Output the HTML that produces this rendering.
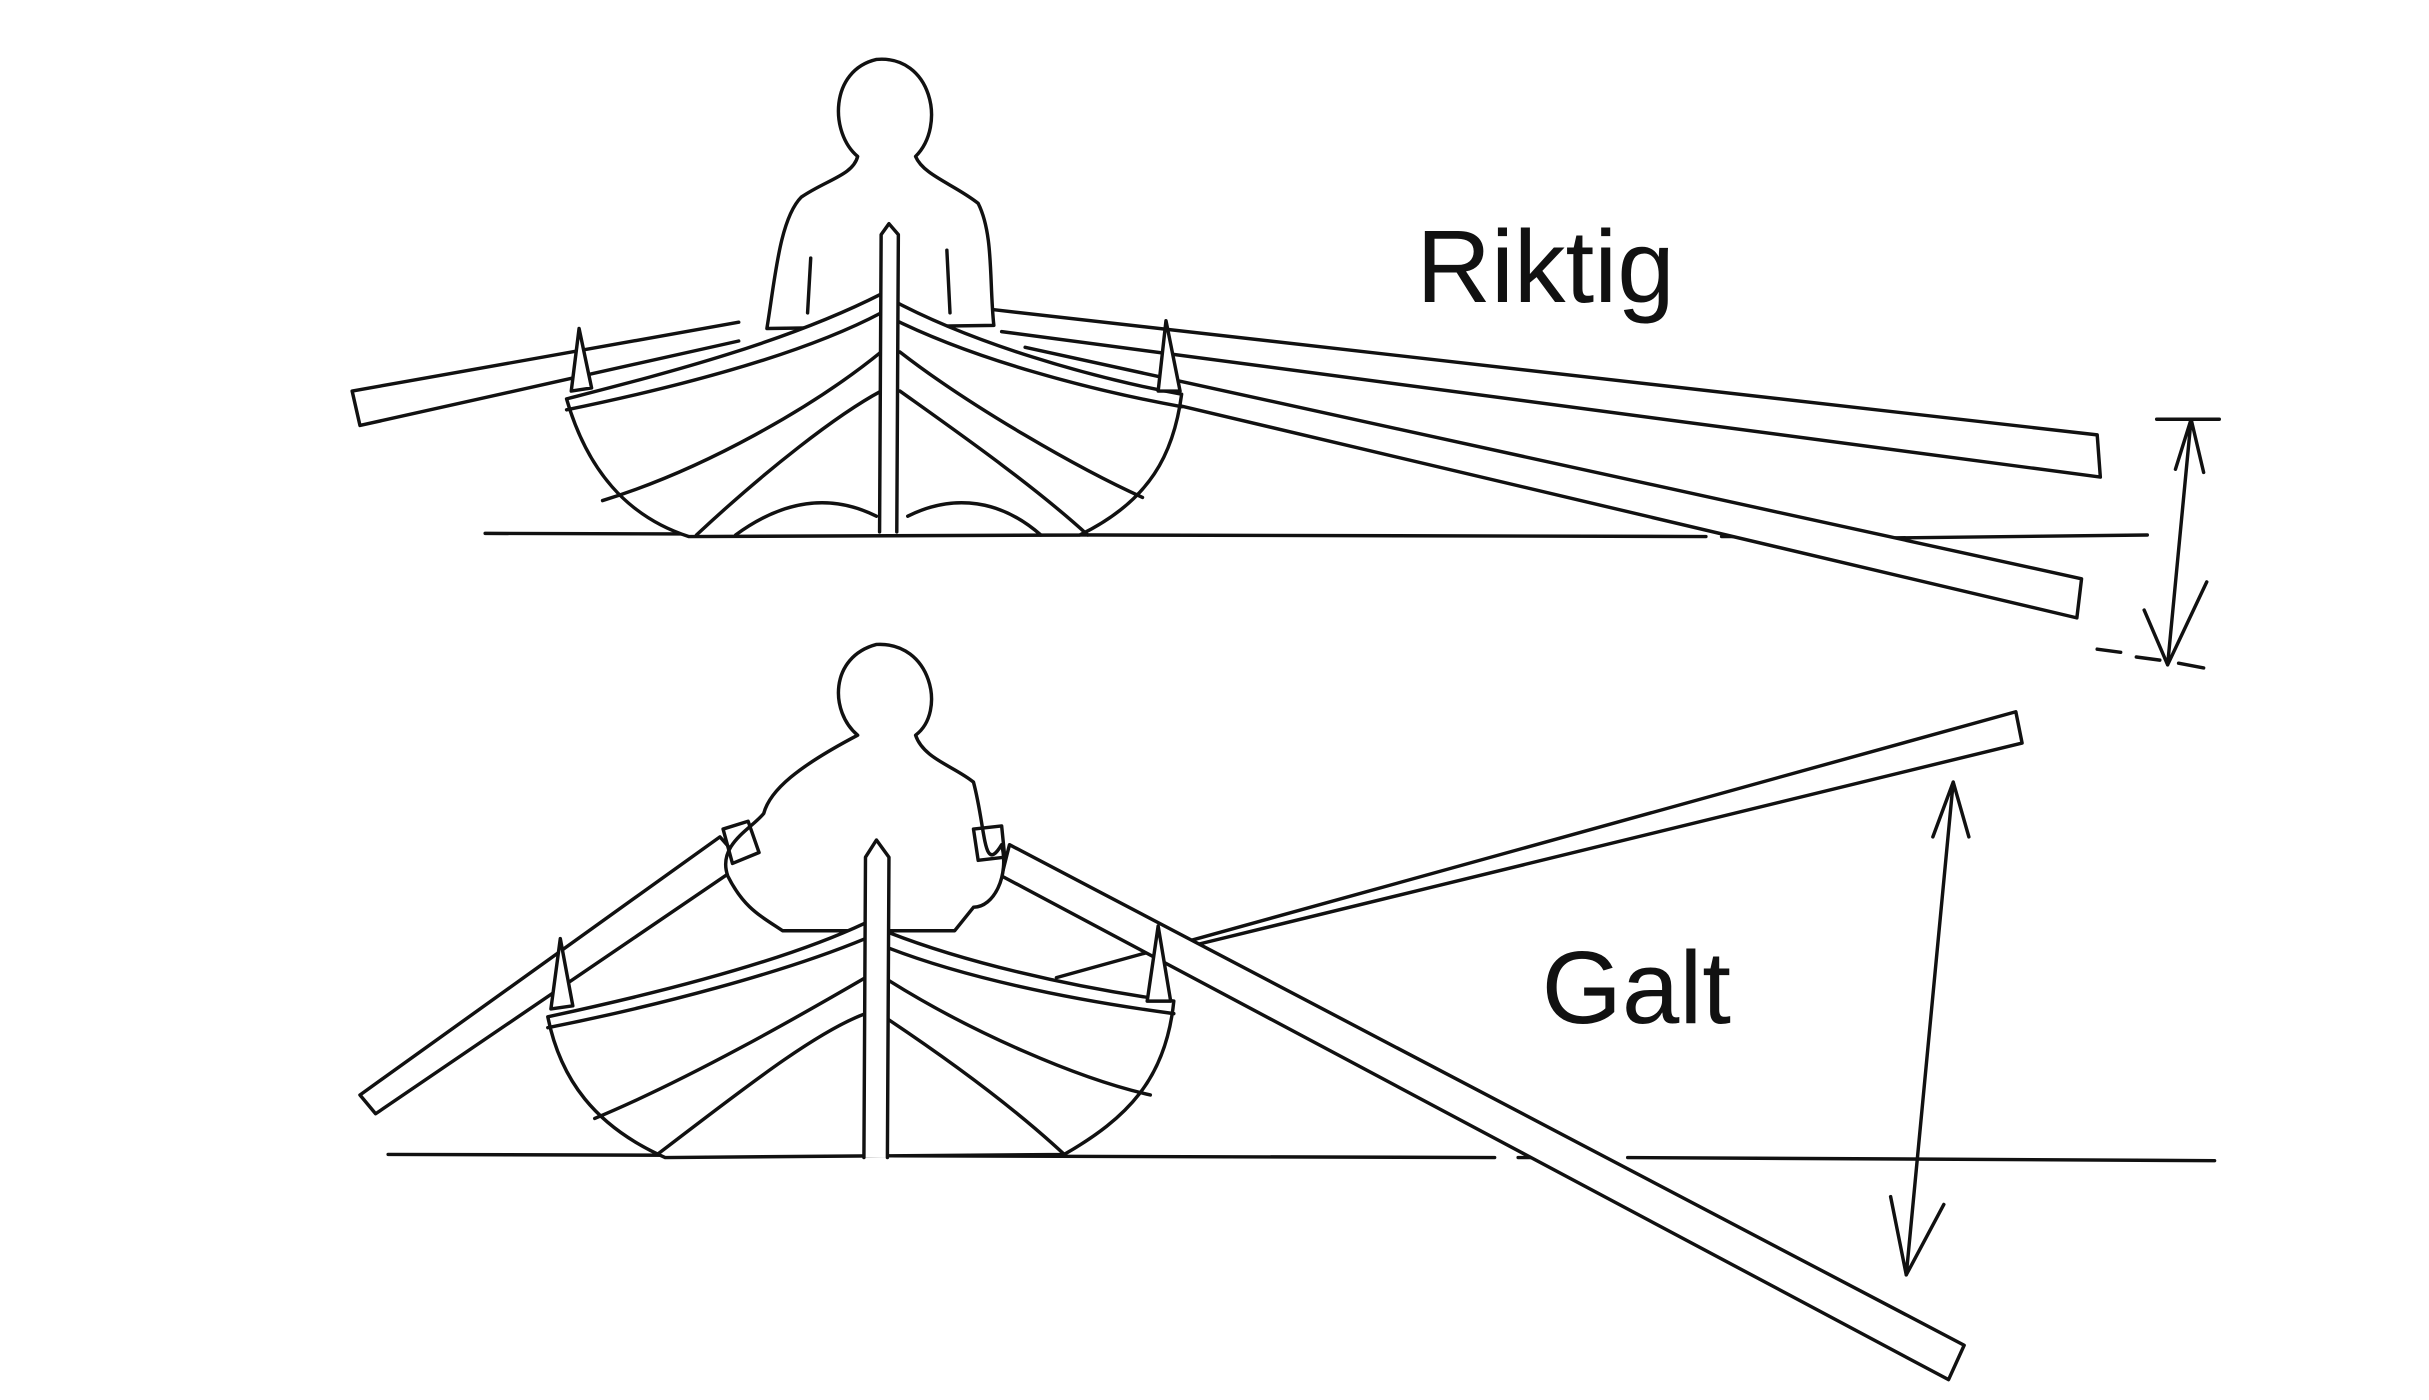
<!DOCTYPE html>
<html><head><meta charset="utf-8"><style>
html,body{margin:0;padding:0;background:#fff;width:2429px;height:1400px;overflow:hidden}
svg{display:block}
</style></head><body>
<svg width="2429" height="1400" viewBox="0 0 1552 895" preserveAspectRatio="none" xmlns="http://www.w3.org/2000/svg">
<g fill="none" stroke="#111" stroke-width="2.2" stroke-linejoin="round" stroke-linecap="round">
<!-- TOP -->
<!-- waterline -->
<path d="M310 341 L1090 343 M1100 343 L1120 343 M1135 344 L1150 344 M1165 344 L1185 344 M1200 344 L1372 342"/>
<!-- left oar -->
<path d="M225 250 L472 206 M230 272 L472 218 M225 250 L230 272" fill="#fff"/>
<!-- right oars -->
<path d="M635 198 L1340 278 L1342 305 L640 212" fill="#fff"/>
<path d="M655 222 L1330 370 L1327 395 L655 236" fill="#fff"/>
<!-- person -->
<path d="M548 100 C530 85 530 45 560 38 C595 35 605 80 585 100 C590 112 610 118 625 130 C635 150 632 180 635 208 L490 210 C495 180 498 140 512 126 C528 115 545 112 548 100 Z" fill="#fff"/>
<path d="M518 165 L516 200 M605 160 L607 200"/>
<!-- hull -->
<path d="M362 255 C420 240 500 220 563 188 C620 220 700 242 755 252 C750 290 735 320 690 342 L440 343 C400 330 375 300 362 255 Z" fill="#fff"/>
<path d="M362 262 C430 248 510 228 563 200 C620 230 700 250 755 260"/>
<path d="M385 320 C450 300 520 260 563 225 M445 342 C490 300 535 265 563 250 M575 225 C620 260 690 300 730 318 M575 250 C610 275 660 310 695 342"/>
<path d="M470 342 C500 320 530 315 560 330 M580 330 C610 315 640 320 665 342"/>
<!-- stem -->
<path d="M562 340 L563 150 L568 143 L574 150 L573 340" fill="#fff"/>
<!-- thole pins -->
<path d="M365 250 L370 210 L378 248 Z M740 250 L745 205 L754 250 Z" fill="#fff"/>
<!-- arrow -->
<path d="M1400 268 L1385 425 M1400 268 L1390 300 M1400 268 L1408 302 M1385 425 L1370 390 M1385 425 L1410 372"/>
<path d="M1378 268 L1418 268 M1340 415 L1355 417 M1365 420 L1380 422 M1392 424 L1408 427"/>
<text x="905" y="193" font-family="Liberation Sans, sans-serif" font-size="66" fill="#111" stroke="none">Riktig</text>

<!-- BOTTOM -->
<path d="M248 738 L955 740 M970 740 L990 740 M1005 740 L1025 740 M1040 740 L1415 742"/>
<!-- left oar -->
<path d="M230 700 L460 535 L475 552 L240 712 Z" fill="#fff"/>
<!-- up oar -->
<path d="M675 625 L1288 455 L1292 475 L760 605" fill="#fff"/>
<!-- down oar -->
<path d="M645 540 L1255 860 L1245 882 L640 560 Z" fill="#fff"/>
<!-- person -->
<path d="M548 470 C530 455 530 420 560 412 C595 410 605 455 585 470 C590 485 610 490 622 500 C630 530 628 560 640 540 C645 560 635 580 622 580 L610 595 L500 595 C485 585 475 580 465 560 C458 540 480 530 488 520 C492 505 510 490 548 470 Z" fill="#fff"/>
<path d="M462 530 L478 525 L485 545 L468 552 Z M622 530 L640 528 L642 548 L625 550 Z"/>
<!-- hull -->
<path d="M350 650 C420 635 500 615 553 590 C610 615 690 632 750 640 C745 690 720 715 680 738 L425 740 C380 720 358 690 350 650 Z" fill="#fff"/>
<path d="M350 657 C420 643 500 622 553 600 C610 625 690 640 750 648"/>
<path d="M380 715 C440 690 510 650 553 625 M420 738 C470 700 520 660 553 648 M565 625 C620 660 690 690 735 700 M565 650 C610 680 650 710 680 738"/>
<!-- stem -->
<path d="M552 740 L553 548 L560 537 L568 548 L567 740" fill="#fff"/>
<!-- thole pins -->
<path d="M352 645 L358 600 L366 643 Z M733 640 L740 592 L748 640 Z" fill="#fff"/>
<!-- arrow -->
<path d="M1248 500 L1218 815 M1248 500 L1235 535 M1248 500 L1258 535 M1218 815 L1208 765 M1218 815 L1242 770"/>
<text x="985" y="654" font-family="Liberation Sans, sans-serif" font-size="66" fill="#111" stroke="none">Galt</text>
</g>
</svg>
</body></html>
